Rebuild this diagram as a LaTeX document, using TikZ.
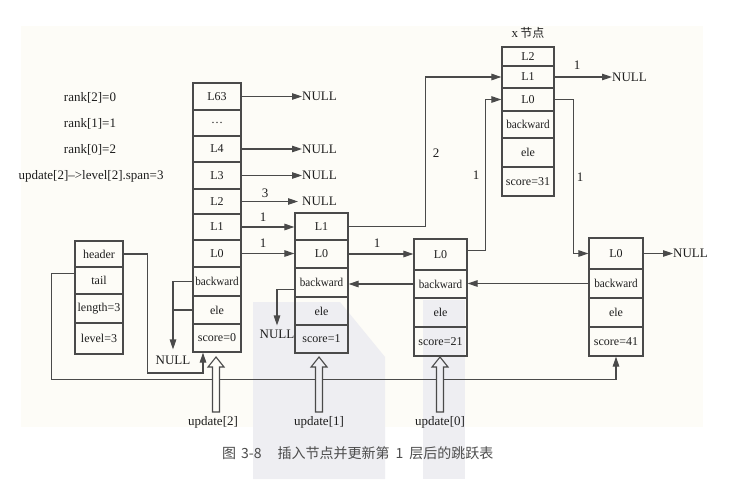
\documentclass[tikz,border=0pt]{standalone}
\usepackage{fontspec}
\setmainfont{Liberation Serif}
\newfontfamily\cjk{Noto Sans CJK SC}
\usetikzlibrary{arrows.meta,calc}
\definecolor{bgc}{HTML}{FDFCF7}
\definecolor{wmc}{HTML}{EEEEF2}
\definecolor{lnc}{HTML}{4A4A4A}
\definecolor{txc}{HTML}{1E1E1E}
\newcommand\skcell[6]{\node[cell,minimum width={#3*1pt},minimum height={(#5-#4)*1pt}] (#1) at (#2,{(#4+#5)/2}) {#6};}
\newcommand\skhollow[2]{\draw[hollow=#2] ({#1-3.5},412) -- ({#1-3.5},367) -- ({#1-8},367) -- (#1,357) -- ({#1+8},367) -- ({#1+3.5},367) -- ({#1+3.5},412) -- cycle;}
\newcommand\skbw{\scalebox{0.93}[1]{backward}}
\begin{document}
\begin{tikzpicture}[x=1pt,y=-1pt,
  cell/.style={draw=lnc,line width=1.2pt,inner sep=0pt,font=\fontsize{12}{12}\selectfont,text=txc},
  lbl/.style={inner sep=0pt,font=\fontsize{13}{13}\selectfont,text=txc},
  nul/.style={lbl,anchor=west},
  arr/.style={draw=lnc,line width=1.1pt,-{Triangle[length=10pt,width=6.5pt]}},
  plain/.style={draw=lnc,line width=1.1pt},
  hollow/.style={draw=lnc,line width=1.1pt,fill=#1}]
\useasboundingbox (0,0) rectangle (733,479);
\fill[white] (0,0) rectangle (733,479);
\fill[bgc] (21,26) rectangle (703,427);
\fill[wmc] (253,302) -- (340,302) -- (385,357) -- (385,479) -- (253,479) -- cycle;
\fill[wmc] (423,300) rectangle (465,479);

% left texts
\node[lbl] (r2) at (90,98) {rank[2]=0};
\node[lbl] (r1) at (90,124) {rank[1]=1};
\node[lbl] (r0) at (90,150) {rank[0]=2};
\node[lbl] (upd) at (91,176) {update[2]--{}>level[2].span=3};

% header struct
\skcell{ha}{99}{48}{241}{267}{header}
\skcell{hb}{99}{48}{267}{294}{tail}
\skcell{hc}{99}{48}{294}{323}{length=3}
\skcell{hd}{99}{48}{323}{354}{level=3}

% column 0
\skcell{c0a}{217}{48}{83}{110}{L63}
\skcell{c0b}{217}{48}{110}{136}{\dots}
\skcell{c0c}{217}{48}{136}{162}{L4}
\skcell{c0d}{217}{48}{162}{189}{L3}
\skcell{c0e}{217}{48}{189}{214}{L2}
\skcell{c0f}{217}{48}{214}{240}{L1}
\skcell{c0g}{217}{48}{240}{267}{L0}
\skcell{c0h}{217}{48}{267}{296}{\skbw}
\skcell{c0i}{217}{48}{296}{324}{ele}
\skcell{c0j}{217}{48}{324}{352}{score=0}

% node 1
\skcell{n1a}{321.5}{53}{213}{240}{L1}
\skcell{n1b}{321.5}{53}{240}{268}{L0}
\skcell{n1c}{321.5}{53}{268}{297}{\skbw}
\skcell{n1d}{321.5}{53}{297}{325}{ele}
\skcell{n1e}{321.5}{53}{325}{353}{score=1}

% node 21
\skcell{n2a}{440.5}{53}{239}{270}{L0}
\skcell{n2b}{440.5}{53}{270}{298}{\skbw}
\skcell{n2c}{440.5}{53}{298}{327}{ele}
\skcell{n2d}{440.5}{53}{327}{356}{score=21}

% x node
\node[lbl] (xt) at (528,33) {x\,{\cjk\fontsize{12}{12}\selectfont 节点}};
\skcell{xa}{528}{52}{47}{66}{L2}
\skcell{xb}{528}{52}{66}{88}{L1}
\skcell{xc}{528}{52}{88}{111}{L0}
\skcell{xd}{528}{52}{111}{138}{\skbw}
\skcell{xe}{528}{52}{138}{167}{ele}
\skcell{xf}{528}{52}{167}{196}{score=31}

% node 41
\skcell{ma}{616}{54}{238}{269}{L0}
\skcell{mb}{616}{54}{269}{298}{\skbw}
\skcell{mc}{616}{54}{298}{327}{ele}
\skcell{md}{616}{54}{327}{356}{score=41}

% NULL nodes
\node[nul] (nu1) at (302,96.5) {NULL};
\node[nul] (nu2) at (302,149) {NULL};
\node[nul] (nu3) at (302,175.5) {NULL};
\node[nul] (nu4) at (302,201.5) {NULL};
\node[nul] (nx) at (612,77) {NULL};
\node[nul] (nm) at (673,253.5) {NULL};
\node[lbl] (nb1) at (277,334) {NULL};
\node[lbl] (nb0) at (173,360) {NULL};

% level pointers
\draw[arr] (c0a.east) -- (c0a.east -| nu1.west);
\draw[arr] (c0c.east) -- (c0c.east -| nu2.west);
\draw[arr] (c0d.east) -- (c0d.east -| nu3.west);
\draw[arr] (c0e.east) -- ($(c0e.east -| nu4.west)+(-4,0)$);
\node[lbl] (s3) at (265,193) {3};
\draw[arr] (c0f.east) -- (c0f.east -| n1a.west);
\node[lbl] (s1a) at (263,217) {1};
\draw[arr] (c0g.east) -- (c0g.east -| n1b.west);
\node[lbl] (s1b) at (263,243) {1};
\draw[arr] (n1a.east) -- ++(77,0) |- (xb.west);
\node[lbl] (s2) at (436,153) {2};
\draw[arr] (n1b.east) -- (n1b.east -| n2a.west);
\node[lbl] (s1c) at (377,243) {1};
\draw[arr] ($(n2a.east)+(0,-4)$) -- ++(18,0) |- (xc.west);
\node[lbl] (s1d) at (476,175) {1};
\draw[arr] (xb.east) -- (xb.east -| nx.west);
\node[lbl] (s1e) at (577,65) {1};
\draw[arr] (xc.east) -- ++(19,0) |- (ma.west);
\node[lbl] (s1f) at (580,177) {1};
\draw[arr] (ma.east) -- (ma.east -| nm.west);

% backward pointers
\draw[arr] (mb.west) -- (mb.west -| n2b.east);
\draw[arr] (n2b.west) -- (n2b.west -| n1c.east);
\draw[arr,shorten >=4pt] ($(n1c.west)+(0,7)$) -| (nb1.north);
\draw[arr,shorten >=6pt] (c0h.west) -| (nb0.north);
\draw[plain] (c0i.west) -- (c0i.west -| nb0.north);

% header / tail pointers
\draw[arr] (ha.east) -- ++(24,0) -- ++(0,119) -| ($(c0j.south)+(-14,0)$);
\draw[arr] ($(hb.west)+(0,-7)$) -- ++(-23,0) -- ++(0,106) -| (md.south);

% update arrows
\skhollow{216}{bgc}
\skhollow{319}{wmc}
\skhollow{440}{wmc}
\node[lbl] (u2) at (213,422) {update[2]};
\node[lbl] (u1) at (319,422) {update[1]};
\node[lbl] (u0) at (440,422) {update[0]};

% caption
\node[inner sep=0pt,anchor=west,text=black!70,font=\cjk\fontsize{14}{14}\selectfont] (cap) at (222,453) {图\hspace{5pt}3-8\hspace{16pt}插入节点并更新第\hspace{6pt}1\hspace{6pt}层后的跳跃表};
\end{tikzpicture}
\end{document}
